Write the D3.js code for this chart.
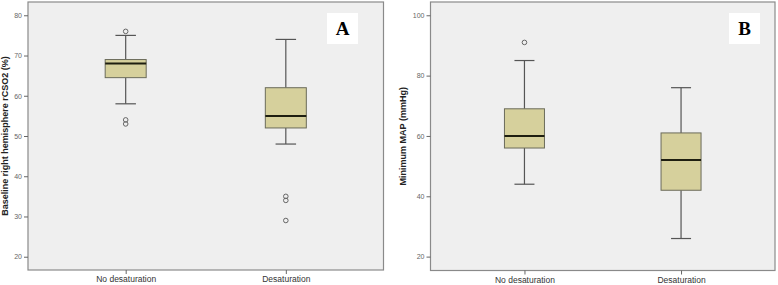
<!DOCTYPE html>
<html><head><meta charset="utf-8">
<script src="https://cdn.jsdelivr.net/npm/d3@7"></script>
<style>body{margin:0;background:#fff}svg{display:block}</style>
</head><body><svg id="c" width="778" height="285"></svg>
<script>
const categories = ["No desaturation", "Desaturation"];
// Panel A: Baseline right hemisphere rCSO2 (%)
const aLow = [58, 48], aQ1 = [64.5, 52], aMed = [68, 55], aQ3 = [69, 62], aHigh = [75, 74];
const aOutliers = [[76, 54, 53], [35, 34, 29]];
const aTicks = [20, 30, 40, 50, 60, 70, 80];
// Panel B: Minimum MAP (mmHg)
const bLow = [44, 26], bQ1 = [56, 42], bMed = [60, 52], bQ3 = [69, 61], bHigh = [85, 76];
const bOutliers = [[91], []];
const bTicks = [20, 40, 60, 80, 100];

const svg = d3.select("#c");

function panel(o) {
  const g = svg.append("g");
  const x = d3.scalePoint().domain(categories).range([o.x0, o.x1]).padding(o.pad);
  const y = d3.scaleLinear().domain(o.domain).range([o.y1, o.y0]);
  g.append("rect").attr("x", o.x0).attr("y", o.y0).attr("width", o.x1 - o.x0).attr("height", o.y1 - o.y0)
    .attr("fill", "#efefef").attr("stroke", "#8a8a8a").attr("stroke-width", 1.2);
  // y axis
  const ya = g.append("g").attr("transform", `translate(${o.x0},0)`)
    .call(d3.axisLeft(y).tickValues(o.ticks).tickSize(4).tickPadding(2).tickFormat(d3.format("d")));
  ya.select(".domain").remove();
  ya.selectAll("line").attr("stroke", "#666");
  ya.selectAll("text").attr("fill", "#666").attr("font-size", "7px").attr("font-family", "Liberation Sans, Arial, sans-serif");
  // x axis
  const xa = g.append("g").attr("transform", `translate(0,${o.y1})`)
    .call(d3.axisBottom(x).tickSize(4).tickPadding(2));
  xa.select(".domain").remove();
  xa.selectAll("line").attr("stroke", "#666");
  xa.selectAll("text").attr("fill", "#333").attr("font-size", "8.5px").attr("font-family", "Liberation Sans, Arial, sans-serif");
  // y title
  g.append("text").attr("transform", `translate(${o.tx},${(o.y0 + o.y1) / 2}) rotate(-90)`)
    .attr("text-anchor", "middle").attr("font-size", "9px").attr("font-weight", "bold")
    .attr("font-family", "Liberation Sans, Arial, sans-serif").attr("fill", "#222").text(o.title);
  const bw = o.bw;
  categories.forEach((c, i) => {
    const cx = x(c);
    const wg = g.append("g");
    wg.append("line").attr("x1", cx).attr("x2", cx).attr("y1", y(o.high[i])).attr("y2", y(o.q3[i])).attr("stroke", "#555").attr("stroke-width", 1.2);
    wg.append("line").attr("x1", cx).attr("x2", cx).attr("y1", y(o.q1[i])).attr("y2", y(o.low[i])).attr("stroke", "#555").attr("stroke-width", 1.2);
    wg.append("line").attr("x1", cx - bw / 4).attr("x2", cx + bw / 4).attr("y1", y(o.high[i])).attr("y2", y(o.high[i])).attr("stroke", "#555").attr("stroke-width", 1.2);
    wg.append("line").attr("x1", cx - bw / 4).attr("x2", cx + bw / 4).attr("y1", y(o.low[i])).attr("y2", y(o.low[i])).attr("stroke", "#555").attr("stroke-width", 1.2);
    wg.append("rect").attr("x", cx - bw / 2).attr("y", y(o.q3[i])).attr("width", bw).attr("height", y(o.q1[i]) - y(o.q3[i]))
      .attr("fill", "#d6d09c").attr("stroke", "#6b6b5a").attr("stroke-width", 1);
    wg.append("line").attr("x1", cx - bw / 2).attr("x2", cx + bw / 2).attr("y1", y(o.med[i])).attr("y2", y(o.med[i])).attr("stroke", "#1e1e10").attr("stroke-width", 2);
    o.out[i].forEach(v => {
      wg.append("circle").attr("cx", cx).attr("cy", y(v)).attr("r", 2.3).attr("fill", "none").attr("stroke", "#666").attr("stroke-width", 1);
    });
  });
  // label box
  g.append("rect").attr("x", o.lx).attr("y", 13).attr("width", 31).attr("height", 31).attr("fill", "#fff");
  g.append("text").attr("x", o.lx + 15.5).attr("y", 35).attr("text-anchor", "middle")
    .attr("font-family", "Liberation Serif, Times New Roman, serif").attr("font-weight", "bold").attr("font-size", "19px").attr("fill", "#000").text(o.label);
}

panel({x0: 28, x1: 383.5, y0: 2, y1: 270, pad: 0.61, domain: [16.7, 83.3], ticks: aTicks,
  low: aLow, q1: aQ1, med: aMed, q3: aQ3, high: aHigh, out: aOutliers, bw: 41,
  title: "Baseline right hemisphere rCSO2  (%)", tx: 8, lx: 327, label: "A"});
panel({x0: 430.5, x1: 775, y0: 2, y1: 270.5, pad: 0.6, domain: [15.4, 104.4], ticks: bTicks,
  low: bLow, q1: bQ1, med: bMed, q3: bQ3, high: bHigh, out: bOutliers, bw: 40,
  title: "Minimum MAP (mmHg)", tx: 406, lx: 729, label: "B"});
</script></body></html>
